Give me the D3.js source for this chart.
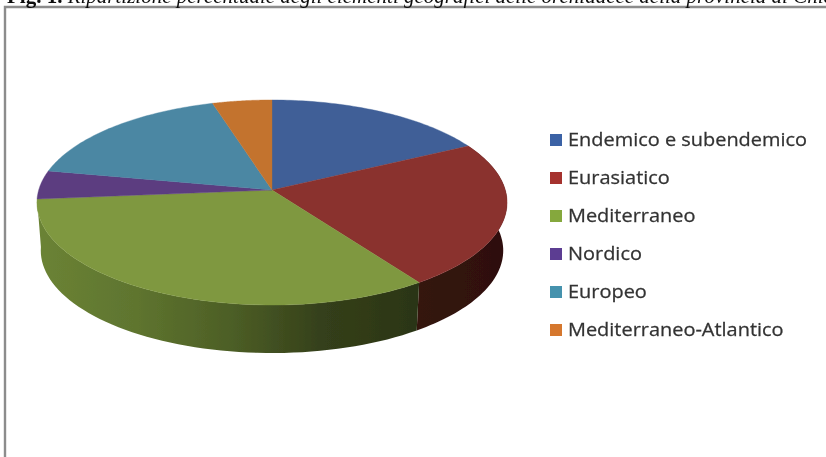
<!DOCTYPE html>
<html><head><meta charset="utf-8">
<style>html,body{margin:0;padding:0;background:#fff;overflow:hidden}svg{display:block}</style>
<script src="https://cdn.jsdelivr.net/npm/d3@7/dist/d3.min.js"></script>
</head><body><svg id="c" width="826" height="457"></svg>
<script>
const categories = ["Endemico e subendemico","Eurasiatico","Mediterraneo","Nordico","Europeo","Mediterraneo-Atlantico"];
const values = [17.4,23.0,33.2,4.5,17.3,4.6];
const topColors = ["#3f5f97","#8a322f","#7f983f","#5b3d80","#4b87a3","#c3732f"];
const legendColors = ["#3b62a5","#a5332f","#85a83d","#5c3d92","#4592ad","#d5772e"];
const wallStops = {
  1:["#34140f","#2e100c"],
  2:["#6b8335","#5f752f","#4d5f26","#343f1a","#2b3515"]
};
const svg = d3.select("#c");
const defs = svg.append("defs");
defs.append("filter").attr("id","soft").append("feGaussianBlur").attr("stdDeviation",0.55);

// Perspective projection of the unit disc
const cx=272, p=0.122;
function project(a, A, y0, B){
  const u=Math.sin(a), v=-Math.cos(a), w=1-p*v;
  return [cx+A*u/w, y0+B*v/w];
}
const topRim = a=>project(a,233.3,190,101);
const botRim = a=>project(a,229.5,238,101);

const arcs = d3.pie().sort(null).value(d=>d)(values);
const line = d3.line();
const samples = (s,e)=>d3.range(0,61).map(i=>s+(e-s)*i/60);

const g = svg.append("g").attr("filter","url(#soft)");

// frame
g.append("path").attr("d","M826,7H5V457").attr("fill","none").attr("stroke","#8c8c8c").attr("stroke-width",2.4);

// walls
Object.keys(wallStops).forEach(k=>{
  const stops=wallStops[k];
  const gr=defs.append("linearGradient").attr("id","w"+k).attr("gradientUnits","userSpaceOnUse")
    .attr("x1",k==1?420:38).attr("x2",k==1?507:420).attr("y1",0).attr("y2",0);
  stops.forEach((c,i)=>gr.append("stop").attr("offset",i/(stops.length-1)).attr("stop-color",c));
});
arcs.forEach((d,i)=>{
  if(!wallStops[i]) return;
  const t=samples(d.startAngle,d.endAngle);
  const pts=t.map(topRim).concat(t.slice().reverse().map(botRim));
  g.append("path").attr("d",line(pts)+"Z").attr("fill","url(#w"+i+")");
});
// top face
arcs.forEach((d,i)=>{
  const t=samples(d.startAngle,d.endAngle);
  const pts=[[cx,190]].concat(t.map(topRim));
  g.append("path").attr("d",line(pts)+"Z").attr("fill",topColors[i]).attr("stroke",topColors[i]).attr("stroke-width",0.4);
});

// legend
const ly=d3.scalePoint().domain(categories).range([140,330]);
const leg=g.selectAll("g.l").data(categories).join("g").attr("class","l").attr("transform",d=>`translate(0,${ly(d)})`);
leg.append("rect").attr("x",550).attr("y",-6).attr("width",12).attr("height",12).attr("fill",(d,i)=>legendColors[i]);
leg.append("text").attr("transform","translate(568,6) scale(1.14,1)").attr("font-family","'Open Sans',sans-serif").attr("font-size",17.5).attr("fill","#333").attr("stroke","#333").attr("stroke-width",0.25).text(d=>d);

// caption (its top is cut by the page edge, as in the reference)
const cap=g.append("text").attr("x",7).attr("y",2.5).attr("font-family","'Liberation Serif',serif").attr("font-size",21).attr("fill","#111");
cap.append("tspan").attr("font-weight","bold").text("Fig. 1. ");
cap.append("tspan").attr("font-style","italic").text("Ripartizione percentuale degli elementi geografici delle orchidacee della provincia di Chieti");
</script></body></html>
